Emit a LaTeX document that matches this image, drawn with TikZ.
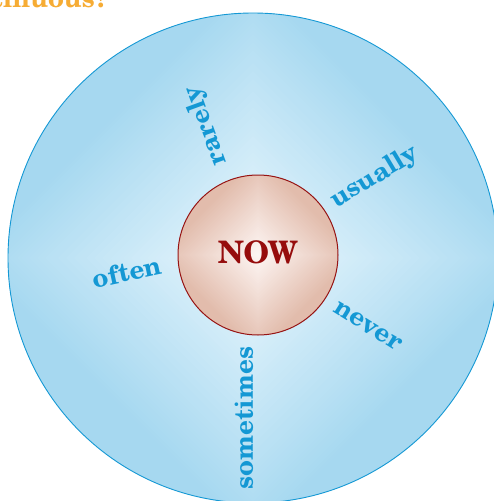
\documentclass[tikz,border=0pt]{standalone}
\usepackage{fontspec}
\setmainfont{TeX Gyre Schola}
\definecolor{ringfill}{RGB}{166,216,240}
\definecolor{ringcenter}{RGB}{234,247,253}
\definecolor{ringline}{RGB}{20,152,212}
\definecolor{labelblue}{RGB}{20,152,212}
\definecolor{nowfill}{RGB}{226,188,172}
\definecolor{nowcenter}{RGB}{253,246,244}
\definecolor{nowline}{RGB}{150,20,20}
\definecolor{nowtext}{RGB}{150,12,12}
\definecolor{titleorange}{RGB}{246,172,52}
% diamond-shaped gradient inside a path picture
\newcommand\dshade[3]{%
  \fill[#1] (path picture bounding box.south west) rectangle (path picture bounding box.north east);
  \foreach \k in {70,69,...,1}{
    \pgfmathsetmacro\s{(#3/70)*\k}
    \pgfmathtruncatemacro\p{100*\k/70}
    \fill[#1!\p!#2, shift={(path picture bounding box.center)}]
      (\s pt,0pt) -- (0pt,\s pt) -- (-\s pt,0pt) -- (0pt,-\s pt) -- cycle;
  }}
\tikzset{
  ringdisc/.style={circle, draw=ringline, line width=0.9pt, inner sep=0pt,
    minimum size=490pt, path picture={\dshade{ringfill}{ringcenter}{285}}},
  nowdisc/.style={circle, draw=nowline, line width=1pt, inner sep=0pt,
    minimum size=160pt, path picture={\dshade{nowfill}{nowcenter}{100}}},
  freqword/.style={text=labelblue, font=\fontsize{26}{26}\selectfont\bfseries, inner sep=0pt},
  nowword/.style={text=nowtext, font=\fontsize{31}{31}\selectfont\bfseries, inner sep=0pt},
  titleword/.style={text=titleorange, font=\fontsize{26}{26}\selectfont\bfseries, inner sep=0pt},
}
\begin{document}
\begin{tikzpicture}[x=1pt, y=-1pt]
\useasboundingbox (0,0) rectangle (494,501);
\clip (0,0) rectangle (494,501);
\node[titleword, anchor=base east] (title) at (108,7) {continuous?};
\node[ringdisc] (ring) at (253,258) {};
\node[nowdisc] (nowc) at (258,255) {};
\node[nowword] (now) at (258,252) {NOW};
\node[freqword, rotate=110] (rarely) at (206,126) {rarely};
\node[freqword, rotate=31] (usually) at (375,177) {usually};
\node[freqword, rotate=12] (often) at (127,272) {often};
\node[freqword, rotate=-32] (never) at (368,326) {never};
\node[freqword, rotate=90] (sometimes) at (244,418) {sometimes};
\end{tikzpicture}
\end{document}
